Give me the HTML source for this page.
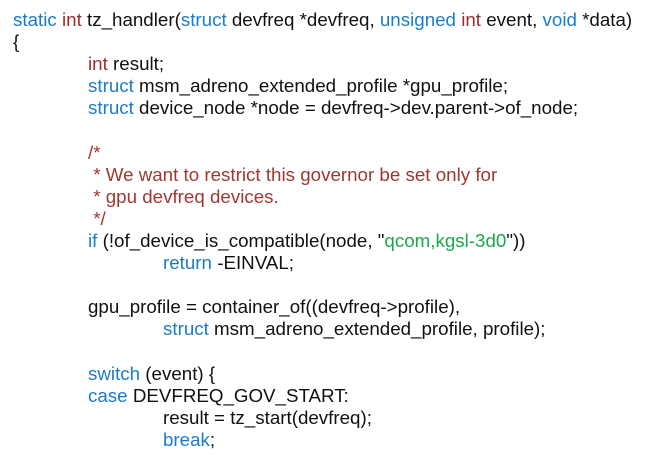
<!DOCTYPE html>
<html><head><meta charset="utf-8"><style>
html,body{margin:0;padding:0;background:#fff;width:654px;height:461px;overflow:hidden}
pre{margin:0;position:absolute;left:13px;top:9px;font-family:"Liberation Sans",sans-serif;font-size:18.75px;line-height:22.1px;color:#111;letter-spacing:0px;white-space:pre}
.k{color:#1c7cc8}.t{color:#9a2e2e}.c{color:#9a3a32}.s{color:#1aa84a}
.i1{display:inline-block;width:75px}.i2{display:inline-block;width:150px}
</style></head><body>
<pre><span class="k">static</span> <span class="t">int</span> tz_handler(<span class="k">struct</span> devfreq *devfreq, <span class="k">unsigned</span> <span class="t">int</span> event, <span class="k">void</span> *data)
{
<span class="i1"></span><span class="t">int</span> result;
<span class="i1"></span><span class="k">struct</span> msm_adreno_extended_profile *gpu_profile;
<span class="i1"></span><span class="k">struct</span> device_node *node = devfreq-&gt;dev.parent-&gt;of_node;

<span class="i1"></span><span class="c">/*</span>
<span class="i1"></span><span class="c"> * We want to restrict this governor be set only for</span>
<span class="i1"></span><span class="c"> * gpu devfreq devices.</span>
<span class="i1"></span><span class="c"> */</span>
<span class="i1"></span><span class="k">if</span> (!of_device_is_compatible(node, "<span class="s">qcom,kgsl-3d0</span>"))
<span class="i2"></span><span class="k">return</span> -EINVAL;

<span class="i1"></span>gpu_profile = container_of((devfreq-&gt;profile),
<span class="i2"></span><span class="k">struct</span> msm_adreno_extended_profile, profile);

<span class="i1"></span><span class="k">switch</span> (event) {
<span class="i1"></span><span class="k">case</span> DEVFREQ_GOV_START:
<span class="i2"></span>result = tz_start(devfreq);
<span class="i2"></span><span class="k">break</span>;
</pre>
</body></html>
